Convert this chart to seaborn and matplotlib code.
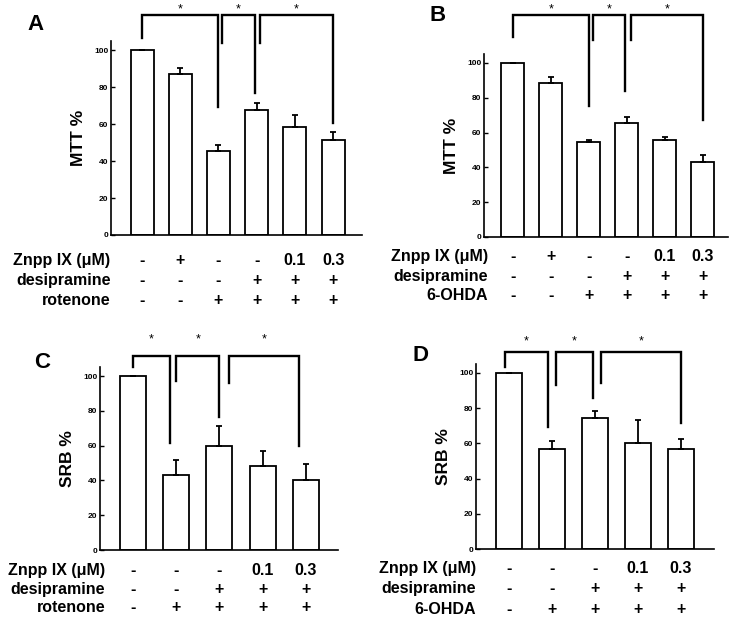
import matplotlib
matplotlib.use("Agg")
import matplotlib.pyplot as plt
import matplotlib.transforms as mtransforms
import seaborn as sns
import pandas as pd

# panel A: MTT, rotenone
a_mean = [100, 87, 45.5, 67.5, 58.5, 51.5]
a_err = [0, 3.5, 3, 4, 6.5, 4]
a_znpp = ["-", "+", "-", "-", "0.1", "0.3"]
a_desi = ["-", "-", "-", "+", "+", "+"]
a_toxin = ["-", "-", "+", "+", "+", "+"]

# panel B: MTT, 6-OHDA
b_mean = [100, 88.5, 54.5, 65.5, 56, 43]
b_err = [0, 3.5, 1, 3.5, 1.5, 4]
b_znpp = ["-", "+", "-", "-", "0.1", "0.3"]
b_desi = ["-", "-", "-", "+", "+", "+"]
b_toxin = ["-", "-", "+", "+", "+", "+"]

# panel C: SRB, rotenone
c_mean = [100, 43, 60, 48.5, 40.5]
c_err = [0, 9, 11, 8.5, 9]
c_znpp = ["-", "-", "-", "0.1", "0.3"]
c_desi = ["-", "-", "+", "+", "+"]
c_toxin = ["-", "+", "+", "+", "+"]

# panel D: SRB, 6-OHDA
d_mean = [100, 56.5, 74.5, 60, 56.5]
d_err = [0, 5, 4, 13, 6]
d_znpp = ["-", "-", "-", "0.1", "0.3"]
d_desi = ["-", "-", "+", "+", "+"]
d_toxin = ["-", "+", "+", "+", "+"]

# brackets: (x_left, y_left_end, x_right, y_right_end, y_top)
a_brackets = [(0, 106.5, 2, 69, 119), (2.1, 104, 2.95, 77, 119), (3.08, 104, 5, 60.5, 119)]
b_brackets = [(0, 115, 2, 75, 127.5), (2.12, 113, 2.95, 84, 127.5), (3.1, 113, 5, 67, 127.5)]
c_brackets = [(0, 105, 0.85, 61.5, 111.5), (1, 97, 2, 76.5, 111.5), (2.23, 96, 3.85, 60, 111.5)]
d_brackets = [(-0.1, 103.5, 0.9, 69, 112), (1.1, 93, 1.95, 86, 112), (2.15, 94, 4, 71.5, 112)]

plt.rcParams['font.family'] = ['Liberation Sans', 'DejaVu Sans']

fig = plt.figure(figsize=(7.36, 6.21), dpi=100)

panels = [
    dict(letter="A", ylabel="MTT %", mean=a_mean, err=a_err, rows=[a_znpp, a_desi, a_toxin],
         toxin="rotenone", br=a_brackets, star_y=122, rect=[0.151, 0.6216, 0.341, 0.3126],
         xlim=(-0.81, 5.76), letter_xy=(0.048, 0.96), label_x=0.150,
         row_y=[0.580, 0.548, 0.516]),
    dict(letter="B", ylabel="MTT %", mean=b_mean, err=b_err, rows=[b_znpp, b_desi, b_toxin],
         toxin="6-OHDA", br=b_brackets, star_y=131, rect=[0.6576, 0.6184, 0.3314, 0.2942],
         xlim=(-0.76, 5.66), letter_xy=(0.595, 0.975), label_x=0.663,
         row_y=[0.587, 0.554, 0.524]),
    dict(letter="C", ylabel="SRB %", mean=c_mean, err=c_err, rows=[c_znpp, c_desi, c_toxin],
         toxin="rotenone", br=c_brackets, star_y=121, rect=[0.136, 0.1143, 0.323, 0.2942],
         xlim=(-0.76, 4.74), letter_xy=(0.057, 0.417), label_x=0.143,
         row_y=[0.082, 0.050, 0.021]),
    dict(letter="D", ylabel="SRB %", mean=d_mean, err=d_err, rows=[d_znpp, d_desi, d_toxin],
         toxin="6-OHDA", br=d_brackets, star_y=118, rect=[0.6467, 0.1159, 0.3233, 0.2979],
         xlim=(-0.77, 4.77), letter_xy=(0.572, 0.428), label_x=0.647,
         row_y=[0.085, 0.053, 0.018]),
]

row_names = ["Znpp IX (\u03bcM)", "desipramine"]

for p in panels:
    ax = fig.add_axes(p["rect"])
    n = len(p["mean"])
    df = pd.DataFrame({"group": [str(i) for i in range(n)], "value": p["mean"]})
    sns.barplot(data=df, x="group", y="value", color="white", edgecolor="black",
                linewidth=1.3, width=0.6, saturation=1, errorbar=None, ax=ax)
    ax.errorbar(range(n), p["mean"], yerr=[[0] * n, p["err"]], fmt="none",
                ecolor="black", elinewidth=1.3, capsize=2.5, capthick=1.3)
    ax.set_xlim(*p["xlim"])
    ax.set_ylim(0, 105)
    ax.set_yticks([0, 20, 40, 60, 80, 100])
    ax.tick_params(axis="y", direction="in", length=3, width=1, labelsize=6, pad=2)
    for t in ax.get_yticklabels():
        t.set_fontweight("bold")
    ax.tick_params(axis="x", bottom=False, labelbottom=False)
    ax.set_xlabel("")
    ax.set_ylabel(p["ylabel"], fontsize=12.5, fontweight="bold", labelpad=6)
    ax.spines["top"].set_visible(False)
    ax.spines["right"].set_visible(False)
    ax.spines["left"].set_linewidth(1.2)
    ax.spines["bottom"].set_linewidth(1.2)
    ax.set_facecolor("white")

    # significance brackets
    for xl, yl, xr, yr, yt in p["br"]:
        ax.plot([xl, xl, xr, xr], [yl, yt, yt, yr], color="black", lw=1.7,
                clip_on=False, solid_joinstyle="miter")
        ax.text((xl + xr) / 2, p["star_y"], "*", ha="center", va="center",
                fontsize=9, clip_on=False)

    # treatment table under the axis
    names = row_names + [p["toxin"]]
    for r, (name, vals) in enumerate(zip(names, p["rows"])):
        yf = p["row_y"][r]
        fig.text(p["label_x"], yf, name, ha="right", va="center",
                 fontsize=11.5, fontweight="bold")
        trans = mtransforms.blended_transform_factory(ax.transData, fig.transFigure)
        for i, v in enumerate(vals):
            ax.text(i, yf, v, transform=trans, ha="center", va="center",
                    fontsize=11.5, fontweight="bold", clip_on=False)

    fig.text(p["letter_xy"][0], p["letter_xy"][1], p["letter"], ha="center",
             va="center", fontsize=16, fontweight="bold")

fig.savefig("out.png", dpi=100, facecolor="white")
